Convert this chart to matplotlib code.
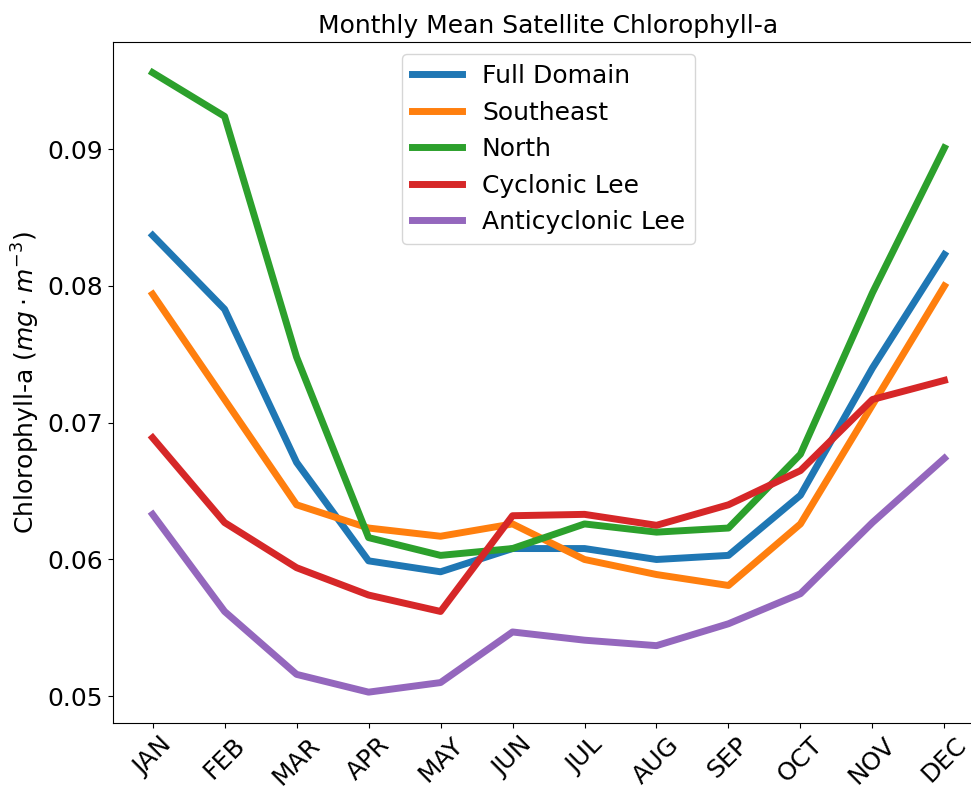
import matplotlib
matplotlib.use("Agg")
import matplotlib.pyplot as plt

months = ["JAN", "FEB", "MAR", "APR", "MAY", "JUN", "JUL", "AUG", "SEP", "OCT", "NOV", "DEC"]

# valores
full_domain = [0.0837, 0.0783, 0.0671, 0.0599, 0.0591, 0.0608, 0.0608, 0.0600, 0.0603, 0.0647, 0.0740, 0.0823]
southeast = [0.0794, 0.0717, 0.0640, 0.0623, 0.0617, 0.0626, 0.0600, 0.0589, 0.0581, 0.0626, 0.0713, 0.0800]
north = [0.0956, 0.0924, 0.0748, 0.0616, 0.0603, 0.0608, 0.0626, 0.0620, 0.0623, 0.0677, 0.0795, 0.0901]
cyclonic_lee = [0.0689, 0.0627, 0.0594, 0.0574, 0.0562, 0.0632, 0.0633, 0.0625, 0.0640, 0.0665, 0.0717, 0.0731]
anticyclonic_lee = [0.0633, 0.0562, 0.0516, 0.0503, 0.0510, 0.0547, 0.0541, 0.0537, 0.0553, 0.0575, 0.0627, 0.0674]

fig = plt.figure(figsize=(9.71, 7.86), dpi=100)
# el eje se sale un poco por la derecha, igual que en la original
ax = fig.add_axes([0.1164, 0.08, 0.897, 0.867])

x = range(len(months))
ax.plot(x, full_domain, color="tab:blue", lw=5, label="Full Domain")
ax.plot(x, southeast, color="tab:orange", lw=5, label="Southeast")
ax.plot(x, north, color="tab:green", lw=5, label="North")
ax.plot(x, cyclonic_lee, color="tab:red", lw=5, label="Cyclonic Lee")
ax.plot(x, anticyclonic_lee, color="tab:purple", lw=5, label="Anticyclonic Lee")

ax.set_xticks(list(x))
ax.set_xticklabels(months, rotation=45, fontsize=18)
ax.set_yticks([0.05, 0.06, 0.07, 0.08, 0.09])
ax.tick_params(axis="y", labelsize=18)
ax.set_ylabel(r"Chlorophyll-a ($mg \cdot m^{-3}$)", fontsize=18)
ax.set_title("Monthly Mean Satellite Chlorophyll-a", fontsize=18)
ax.legend(loc="upper center", fontsize=18)

fig.savefig("out.png", dpi=100)
